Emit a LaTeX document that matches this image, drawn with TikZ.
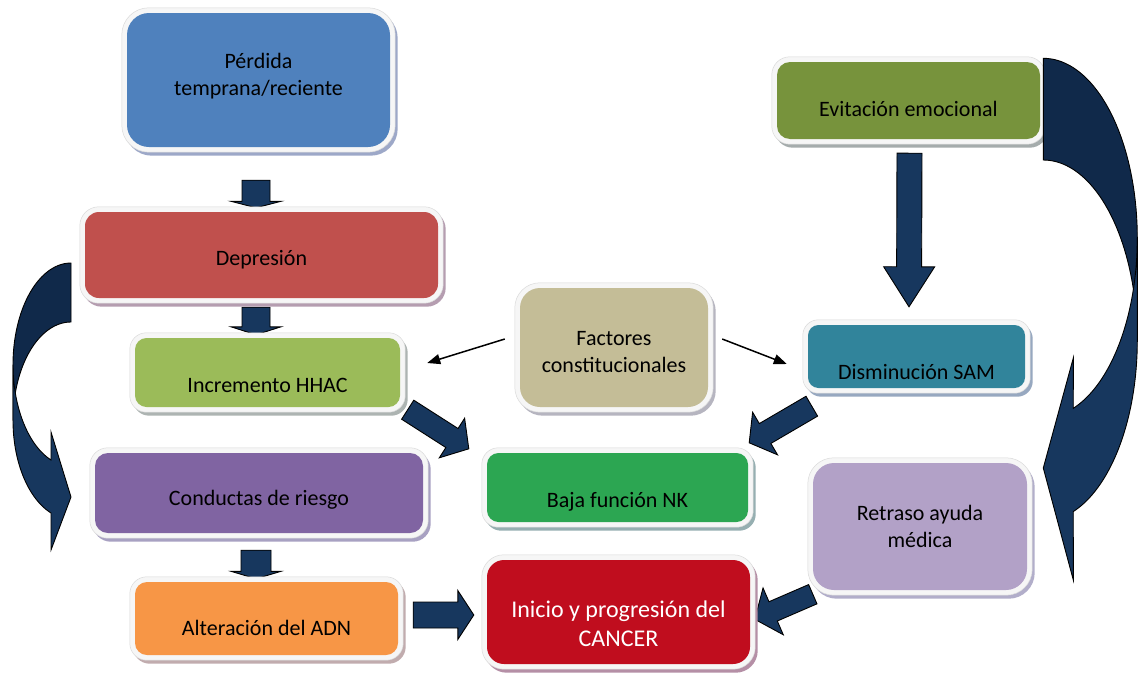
\documentclass[tikz,border=0pt]{standalone}
\usepackage{fontspec}
\setmainfont{Carlito}
\usetikzlibrary{calc,arrows.meta}
\pgfdeclarelayer{back}
\pgfdeclarelayer{rims}
\pgfsetlayers{back,rims,main}

\definecolor{cPerd}{HTML}{4F81BD}
\definecolor{cDep}{HTML}{C0504D}
\definecolor{cHhac}{HTML}{9BBB59}
\definecolor{cFact}{HTML}{C4BD97}
\definecolor{cEvit}{HTML}{77933C}
\definecolor{cSam}{HTML}{31849B}
\definecolor{cCond}{HTML}{8064A2}
\definecolor{cNk}{HTML}{2CA652}
\definecolor{cRetr}{HTML}{B2A1C7}
\definecolor{cAlt}{HTML}{F79646}
\definecolor{cCanc}{HTML}{C00D1E}
\definecolor{navy}{HTML}{17375E}
\definecolor{navyd}{HTML}{10294A}
\definecolor{slate}{RGB}{160,160,190}
\definecolor{rimc}{HTML}{F6F6F6}
\definecolor{rimd}{HTML}{DADADA}

\tikzset{
  box/.style={rectangle, rounded corners=#1, inner sep=0pt, draw=none},
  txt/.style={font=\fontsize{22}{27}\selectfont, align=center, text=black, inner sep=0pt},
  blockarrow/.style={fill=navy, draw=black, line width=0.9pt, line join=miter},
  thinarrow/.style={draw=black, line width=1.5pt, -{Triangle[length=13pt,width=10pt]}},
  curvefront/.style={fill=navy, draw=black, line width=0.9pt},
  curveback/.style={fill=navyd, draw=black, line width=0.9pt},
}

% name, cx, cy, w, h, radius, colour, text offset (down), text
\newcommand\mkbox[9]{%
  \node[box=#6pt, fill=#7, minimum width=#4pt, minimum height=#5pt,
        label={[txt, yshift={-1pt*(#8)}]center:{#9}}] (#1) at (#2,#3) {};
  \begin{pgfonlayer}{rims}
    \fill[#7!25!slate!85!white, rounded corners={(#6+5)*1pt}]
      ([shift={(-2,-1.5)}]#1.north west) rectangle ([shift={(7.5,8.5)}]#1.south east);
    \filldraw[fill=rimc, draw=rimd, line width=0.5pt, rounded corners={(#6+5)*1pt}]
      ([shift={(-5,-5)}]#1.north west) rectangle ([shift={(5,5)}]#1.south east);
  \end{pgfonlayer}}

% tail, tip, half shaft, half head, head length
\newcommand\blockarr[5]{%
  \coordinate (bC) at ($(#2)!#5!(#1)$);
  \begin{pgfonlayer}{back}
  \draw[blockarrow] ($(#1)!#3!90:(#2)$) -- ($(bC)!#3!90:(#2)$) -- ($(bC)!#4!90:(#2)$) -- (#2)
    -- ($(bC)!#4!-90:(#2)$) -- ($(bC)!#3!-90:(#2)$) -- ($(#1)!#3!-90:(#2)$) -- cycle;
  \end{pgfonlayer}}

\begin{document}
\begin{tikzpicture}[x=1pt,y=-1pt]
\begin{pgfonlayer}{back}
  \fill[white] (0,0) rectangle (1138,675);
\end{pgfonlayer}
\useasboundingbox (0,0) rectangle (1138,675);

\mkbox{perd}{258.5}{80}{263}{134}{22}{cPerd}{-3.5}{Pérdida\\temprana/reciente}
\mkbox{dep}{261.5}{255}{353}{86}{14}{cDep}{5}{Depresión}
\mkbox{hhac}{267.5}{372.5}{265}{69}{11.5}{cHhac}{12.5}{Incremento HHAC}
\mkbox{fact}{614}{347.5}{188}{119}{20}{cFact}{4.5}{Factores\\constitucionales}
\mkbox{evit}{908.5}{100.5}{263}{77}{13}{cEvit}{8.5}{Evitación emocional}
\mkbox{sam}{916.5}{356.5}{217}{63}{10.5}{cSam}{15.5}{Disminución SAM}
\mkbox{cond}{259}{493}{328}{80}{13}{cCond}{7}{Conductas de riesgo}
\mkbox{nk}{617.5}{487.5}{261}{69}{11.5}{cNk}{14.5}{Baja función NK}
\mkbox{retr}{920}{526.5}{214}{127}{21}{cRetr}{0}{Retraso ayuda\\médica}
\mkbox{alt}{266.5}{618.5}{263}{73}{12}{cAlt}{9.5}{Alteración del ADN}
\begin{scope}[txt/.append style={text=white, font=\fontsize{24}{29}\selectfont}]
\mkbox{canc}{618.5}{612}{263}{104}{17}{cCanc}{11.5}{Inicio y progresión del\\CANCER}
\end{scope}

% block arrows
\coordinate (a1s) at ([shift={(-2.5,33)}]perd.south);
\coordinate (a1e) at ([shift={(-5.5,-4)}]dep.north);
\blockarr{a1s}{a1e}{14pt}{25pt}{6.5pt}
\coordinate (a2s) at ([shift={(-5.5,9)}]dep.south);
\coordinate (a2e) at ([shift={(-11.5,-3)}]hhac.north);
\blockarr{a2s}{a2e}{14pt}{25pt}{8pt}
\coordinate (a3s) at ([shift={(-3,17)}]cond.south);
\coordinate (a3e) at ([shift={(-10.5,-3)}]alt.north);
\blockarr{a3s}{a3e}{15pt}{25pt}{7.5pt}
\coordinate (a4s) at ([shift={(15,-3.5)}]alt.east);
\coordinate (a4e) at ([shift={(-13,3)}]canc.west);
\blockarr{a4s}{a4e}{13pt}{24.5pt}{16pt}
\coordinate (a5s) at ([shift={(1,14)}]evit.south);
\coordinate (a5e) at ([shift={(-7.5,-18)}]sam.north);
\blockarr{a5s}{a5e}{12.5pt}{25.5pt}{40pt}
\coordinate (a6s) at ([shift={(7.5,2.5)}]hhac.south east);
\coordinate (a6e) at ([shift={(-18,-4)}]nk.north west);
\blockarr{a6s}{a6e}{11.3pt}{23.5pt}{20pt}
\coordinate (a7s) at ([shift={(4,18)}]sam.south west);
\coordinate (a7e) at ([shift={(1,-10)}]nk.north east);
\blockarr{a7s}{a7e}{11.5pt}{24.7pt}{18.4pt}
\coordinate (a8s) at ([shift={(0,4)}]retr.south west);
\coordinate (a8e) at ([shift={(4.6,7.3)}]canc.east);
\blockarr{a8s}{a8e}{10.5pt}{25.5pt}{20pt}

% thin arrows
\coordinate (f1s) at ([shift={(-15,-8.5)}]fact.west);
\coordinate (f1e) at ([shift={(27,-9.5)}]hhac.east);
\draw[thinarrow] (f1s) -- (f1e);
\coordinate (f2s) at ([shift={(14,-8.5)}]fact.east);
\coordinate (f2e) at ([shift={(-21,7.5)}]sam.west);
\draw[thinarrow] (f2s) -- (f2e);

% left curved arrow
\filldraw[curveback] plot[domain=90:180, samples=40] ({71+58*cos(\x)},{364.6-101.6*sin(\x)})
  -- plot[domain=180:90, samples=40] ({71+58*cos(\x)},{420.5-98.5*sin(\x)}) -- cycle;
\filldraw[curvefront] plot[domain=180:110.17, samples=40] ({71+58*cos(\x)},{364.6+101.6*sin(\x)})
  -- (51,432) -- (71,497) -- (51,550)
  -- plot[domain=110.17:180, samples=40] ({71+58*cos(\x)},{420.5+98.5*sin(\x)}) -- cycle;

% right curved arrow
\filldraw[curveback] plot[domain=90:0, samples=40] ({1043.3+94*cos(\x)},{238-179.7*sin(\x)})
  -- plot[domain=0:90, samples=40] ({1043.3+94*cos(\x)},{340.5-180.5*sin(\x)}) -- cycle;
\filldraw[curvefront] plot[domain=0:71.4, samples=40] ({1043.3+94*cos(\x)},{238+179.7*sin(\x)})
  -- (1073.3,358) -- (1043.3,468) -- (1073.3,580)
  -- plot[domain=71.4:0, samples=40] ({1043.3+94*cos(\x)},{340.5+180.5*sin(\x)}) -- cycle;
\end{tikzpicture}
\end{document}
